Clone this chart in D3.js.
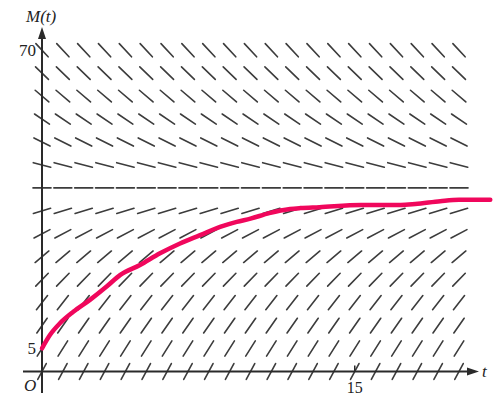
<!DOCTYPE html>
<html><head><meta charset="utf-8">
<script src="https://cdn.jsdelivr.net/npm/d3@7"></script>
<style>html,body{margin:0;padding:0;background:#fff;}svg{display:block;}</style>
</head><body>
<svg id="chart" width="498" height="398"></svg>
<script>
// grid of the slope field
const gridT = [0,1,2,3,4,5,6,7,8,9,10,11,12,13,14,15,16,17,18,19,20];
const gridM = [0,5,10,15,20,25,30,35,40,45,50,55,60,65,70];
// slope dM/dt per row
const rowSlopes = [8.5,7.2,6.5,5.8,4.7,3.8,2.4,1.4,0,-1.2,-2.3,-3.05,-3.9,-4.4,-4.9];
// solution curve
const curveT = [0,0.38,0.86,1.5,2.3,3.1,3.74,4.7,5.66,6.62,7.58,8.54,9.34,10.0,10.9,11.9,12.4,13.3,15.3,17.2,17.9,19.1,20.0,21.5];
const curveM = [5.05,7.95,10.5,13.0,15.6,18.5,21.0,23.2,25.75,27.9,29.7,31.5,32.6,33.3,34.5,35.4,35.6,35.8,36.3,36.3,36.5,37.1,37.4,37.4];
const yTickLabels = [{v:70,l:"70"},{v:5,l:"5"}];
const xTickLabels = [{v:15,l:"15"}];

const svg = d3.select("#chart");
const x = d3.scaleLinear().domain([0,20]).range([42,459]);
const y = d3.scaleLinear().domain([0,70]).range([371.5,50.2]);
const halfLen = 9;
const segCol = "#3c3c3c";

// slope segments
const segs = [];
gridM.forEach((m,i)=>{
  gridT.forEach(t=>{ segs.push({t, m, s: rowSlopes[i]}); });
});
svg.append("g").selectAll("line").data(segs).join("line")
  .each(function(d){
    const cx = x(d.t), cy = y(d.m);
    const dxp = x(d.t+1)-x(d.t);
    const dyp = y(d.m + d.s) - y(d.m);
    const L = Math.hypot(dxp, dyp);
    const ux = dxp/L*halfLen, uy = dyp/L*halfLen;
    d3.select(this).attr("x1",cx-ux).attr("y1",cy-uy).attr("x2",cx+ux).attr("y2",cy+uy);
  })
  .attr("stroke",segCol).attr("stroke-width",1.6).attr("stroke-linecap","round");

// axes
const axisCol = "#2a2a2a";
svg.append("line").attr("x1",x(0)).attr("x2",x(0)).attr("y1",393).attr("y2",36)
  .attr("stroke",axisCol).attr("stroke-width",2);
svg.append("path").attr("d",`M${x(0)},27 L${x(0)-4},39 L${x(0)+4},39 Z`).attr("fill",axisCol);
svg.append("line").attr("x1",23).attr("x2",468).attr("y1",y(0)).attr("y2",y(0))
  .attr("stroke",axisCol).attr("stroke-width",2);
svg.append("path").attr("d",`M479,${y(0)} L467,${y(0)-4} L467,${y(0)+4} Z`).attr("fill",axisCol);

// solution curve
const pts = curveT.map((t,i)=>[t,curveM[i]]);
svg.append("path").datum(pts)
  .attr("d", d3.line().x(d=>x(d[0])).y(d=>y(d[1])).curve(d3.curveMonotoneX))
  .attr("fill","none").attr("stroke","#f0075c").attr("stroke-width",4.5)
  .attr("stroke-linecap","round").attr("stroke-linejoin","round");

// labels
const font = "Liberation Serif, Times New Roman, serif";
svg.selectAll(".yl").data(yTickLabels).join("text")
  .attr("x", x(0)-6).attr("y", d=>y(d.v)+5.5).attr("text-anchor","end")
  .attr("font-family",font).attr("font-size",17).attr("fill","#222").text(d=>d.l);
svg.selectAll(".xt").data(xTickLabels).join("line")
  .attr("x1",d=>x(d.v)).attr("x2",d=>x(d.v)).attr("y1",y(0)).attr("y2",y(0)-6)
  .attr("stroke",axisCol).attr("stroke-width",1.5);
svg.selectAll(".xl").data(xTickLabels).join("text")
  .attr("x", d=>x(d.v)).attr("y", 393).attr("text-anchor","middle")
  .attr("font-family",font).attr("font-size",16).attr("fill","#222").text(d=>d.l);
svg.append("text").attr("x",24).attr("y",391).attr("font-family",font).attr("font-style","italic")
  .attr("font-size",17).attr("fill","#222").text("O");
svg.append("text").attr("x",482).attr("y",377).attr("font-family",font).attr("font-style","italic")
  .attr("font-size",17).attr("fill","#222").text("t");
svg.append("text").attr("x",26).attr("y",22).attr("font-family",font).attr("font-style","italic")
  .attr("font-size",17).attr("fill","#222").text("M(t)");
</script>
</body></html>
